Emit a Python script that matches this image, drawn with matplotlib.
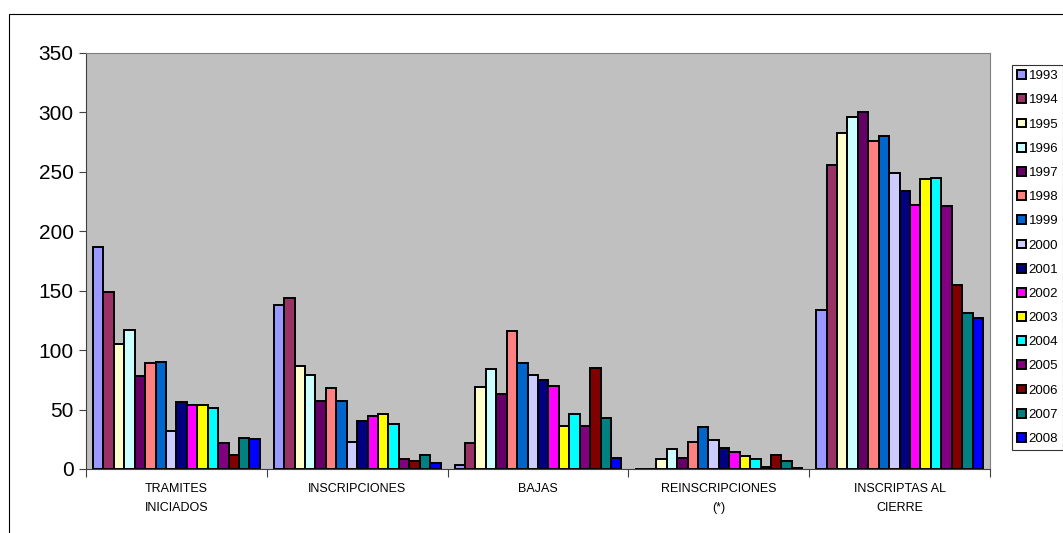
import matplotlib.pyplot as plt
import numpy as np
from matplotlib.patches import Rectangle

# Categories and yearly series
categories = ['TRAMITES\nINICIADOS', 'INSCRIPCIONES', 'BAJAS', 'REINSCRIPCIONES\n(*)', 'INSCRIPTAS AL\nCIERRE']
years = ['1993', '1994', '1995', '1996', '1997', '1998', '1999', '2000',
         '2001', '2002', '2003', '2004', '2005', '2006', '2007', '2008']

tramites = [187, 149, 105, 117, 78, 89, 90, 32, 56, 54, 54, 51, 22, 12, 26, 25]
inscripciones = [138, 144, 87, 79, 57, 68, 57, 23, 40, 45, 46, 38, 8, 7, 12, 5]
bajas = [3, 22, 69, 84, 63, 116, 89, 79, 75, 70, 36, 46, 36, 85, 43, 9]
reinscripciones = [0, 0, 8, 17, 9, 23, 35, 24, 18, 14, 11, 8, 2, 12, 7, 1]
inscriptas = [134, 256, 283, 296, 300, 276, 280, 249, 234, 222, 244, 245, 221, 155, 131, 127]

colors = ['#9999FF', '#993366', '#FFFFCC', '#CCFFFF', '#660066', '#FF8080',
          '#0066CC', '#CCCCFF', '#000080', '#FF00FF', '#FFFF00', '#00FFFF',
          '#800080', '#800000', '#008080', '#0000FF']

plt.rcParams['font.family'] = 'Liberation Sans'

data = np.array([tramites, inscripciones, bajas, reinscripciones, inscriptas]).T

fig = plt.figure(figsize=(10.63, 5.33), dpi=100)
ax = fig.add_axes([86 / 1063, 64 / 533, 904 / 1063, 416 / 533])
ax.set_facecolor('#C0C0C0')

x = np.arange(len(categories))
n = len(years)
w = 0.923 / n
for i, yr in enumerate(years):
    ax.bar(x - 0.923 / 2 + w * (i + 0.5), data[i], width=w, color=colors[i],
           edgecolor='black', linewidth=1.4, label=yr)

ax.set_xlim(-0.5, len(categories) - 0.5)
ax.set_ylim(0, 350)
ax.set_yticks(np.arange(0, 351, 50))
ax.tick_params(axis='y', labelsize=15, length=5, direction='out', color='#404040', pad=4)
ax.set_xticks(np.arange(-0.5, len(categories), 1))
ax.set_xticklabels([])
ax.tick_params(axis='x', length=6, direction='out', color='#404040')
for s in ax.spines.values():
    s.set_color('#808080')
ax.spines['left'].set_color('#404040')
ax.spines['bottom'].set_color('#404040')

for i, c in enumerate(categories):
    ax.text(i, -12, c, ha='center', va='top', fontsize=9,
            family=['Liberation Sans Narrow', 'Liberation Sans'], linespacing=1.7)

leg = fig.legend(loc='upper left', bbox_to_anchor=(1012 / 1063, 1 - 65 / 533),
                 handlelength=0.65, handleheight=0.65, handletextpad=0.2,
                 labelspacing=0.92, borderpad=0.4, borderaxespad=0, frameon=True,
                 fancybox=False, prop={'family': 'Liberation Sans', 'size': 9.5})
leg.get_frame().set_edgecolor('black')
leg.get_frame().set_linewidth(0.8)

fig.patches.append(Rectangle((9 / 1063, -0.1), 1.2, 1.1 - 14 / 533, transform=fig.transFigure,
                             fill=False, edgecolor='black', linewidth=0.8))

plt.savefig('out.png', dpi=100)
